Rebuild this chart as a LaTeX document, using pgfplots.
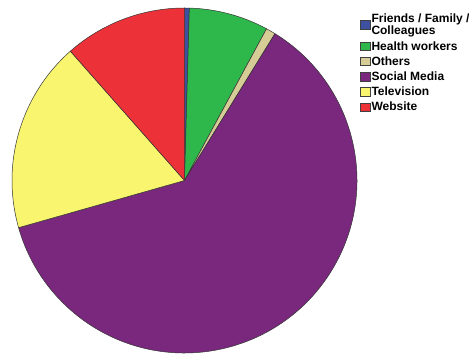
\documentclass[border=0pt]{standalone}
\usepackage{fontspec}
\setmainfont{Liberation Sans}
\usepackage{pgfplots}
\usepackage{pgfplotstable}
\pgfplotsset{compat=1.18}
\definecolor{cBlue}{RGB}{62,80,160}
\definecolor{cGreen}{RGB}{46,184,76}
\definecolor{cOthers}{RGB}{214,205,150}
\definecolor{cPurple}{RGB}{121,40,125}
\definecolor{cYellow}{RGB}{250,245,110}
\definecolor{cRed}{RGB}{236,50,56}
\begin{document}
\begin{tikzpicture}
\begin{axis}[
  x=1pt, y=1pt,
  xmin=0, xmax=469, ymin=0, ymax=356,
  hide axis, clip=false,
  legend cell align=left,
  legend style={at={(axis cs:357,345)}, anchor=north west, draw=none, fill=none,
    font=\fontsize{12}{10.8}\selectfont\bfseries, row sep=3.4pt,
    nodes={inner sep=0.8pt, align=left}},
  legend image code/.code={\draw[#1, draw=black!75, line width=0.5pt] (0pt,-4pt) rectangle (10pt,4.5pt);},
]
\def\cum{0}
\pgfplotsforeachungrouped \v/\col in {0.45/cBlue, 7.44/cGreen, 0.90/cOthers, 61.80/cPurple, 17.90/cYellow, 11.51/cRed} {
  \pgfmathsetmacro\aa{90-3.6*\cum}
  \pgfmathsetmacro\bb{90-3.6*(\cum+\v)}
  \edef\temp{\noexpand\filldraw[fill=\col, draw=black!80, line width=0.5pt, line join=round] (axis cs:184.5,175.5) -- ++(\aa:172.5pt) arc[start angle=\aa, end angle=\bb, radius=172.5pt] -- cycle;}
  \temp
  \pgfmathsetmacro\cum{\cum+\v}
}
\addlegendimage{fill=cBlue}
\addlegendentry{Friends / Family /\\Colleagues}
\addlegendimage{fill=cGreen}
\addlegendentry{Health workers}
\addlegendimage{fill=cOthers}
\addlegendentry{Others}
\addlegendimage{fill=cPurple}
\addlegendentry{Social Media}
\addlegendimage{fill=cYellow}
\addlegendentry{Television}
\addlegendimage{fill=cRed}
\addlegendentry{Website}
\end{axis}
\pgfresetboundingbox
\useasboundingbox (current axis.south west) rectangle (current axis.north east);
\end{tikzpicture}
\end{document}
